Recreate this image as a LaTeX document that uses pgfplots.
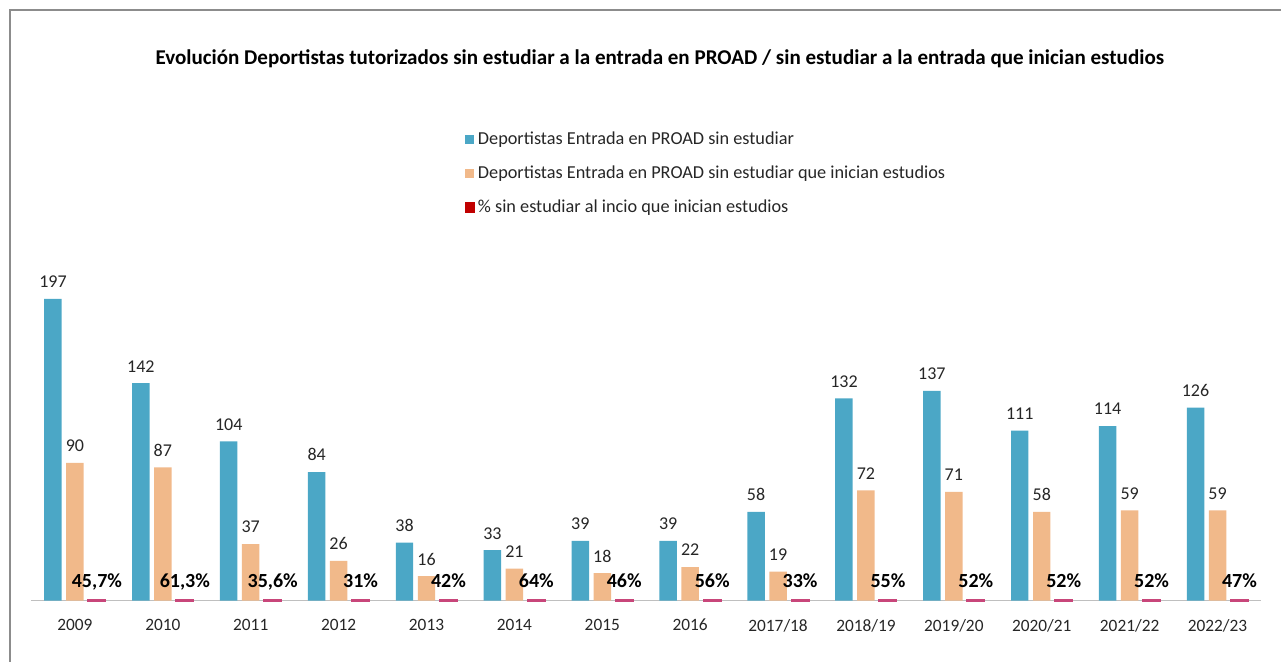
\documentclass[border=0pt]{standalone}
\usepackage{fontspec}
\setmainfont{Carlito}
\usepackage{pgfplots}
\pgfplotsset{compat=1.18}
\definecolor{BarBlue}{HTML}{4BA7C6}
\definecolor{BarOrange}{HTML}{F1B98A}
\definecolor{BarPink}{HTML}{C8467A}
\definecolor{PctRed}{HTML}{C00000}
\definecolor{AxisGray}{HTML}{BFBFBF}
\definecolor{FrameGray}{HTML}{8C8C8C}
\definecolor{LabelText}{HTML}{262626}

\begin{document}
\begin{tikzpicture}
\begin{axis}[
    ybar=3.4pt,
    bar width=13.1pt,
    scale only axis,
    width=923.25pt,
    height=247.2pt,
    xmin=-0.5, xmax=13.5,
    ymin=0, ymax=215,
    xtick={0,...,13},
    xticklabels={2009,2010,2011,2012,2013,2014,2015,2016,2017/18,2018/19,2019/20,2020/21,2021/22,2022/23},
    xtick style={draw=none},
    ytick=\empty,
    axis y line=none,
    axis x line*=bottom,
    x axis line style={draw=AxisGray, line width=0.8pt, -},
    xticklabel style={font=\fontsize{13}{15}\selectfont, text=LabelText, yshift=-6pt},
    /pgf/number format/assume math mode=true,
    clip=false,
    legend style={
        at={(0.349,1.440)}, anchor=north west,
        draw=none, fill=none,
        font=\fontsize{13.7}{16}\selectfont,
        text=LabelText,
        row sep=10.6pt,
        cells={anchor=west},
        legend cell align=left,
    },
    legend image code/.code={\fill[#1] (0pt,-3.375pt) rectangle (6.75pt,3.375pt);},
]
\addplot[fill=BarBlue, draw=none,
    nodes near coords,
    every node near coord/.append style={font=\fontsize{13.5}{16}\selectfont, text=LabelText, anchor=base, inner sep=0pt, yshift=8.3pt}]
    coordinates {
    (0,197) (1,142) (2,104) (3,84) (4,38) (5,33) (6,39) (7,39)
    (8,58) (9,132) (10,137) (11,111) (12,114) (13,126)
};
\addplot[fill=BarOrange, draw=none,
    nodes near coords,
    every node near coord/.append style={font=\fontsize{13.5}{16}\selectfont, text=LabelText, anchor=base, inner sep=0pt, yshift=8.3pt}]
    coordinates {
    (0,90) (1,87) (2,37) (3,26) (4,16) (5,21) (6,18) (7,22)
    (8,19) (9,72) (10,71) (11,58) (12,59) (13,59)
};
\addplot[fill=BarPink, draw=BarPink, line width=1.2pt,
    legend image code/.code={\fill[PctRed] (0pt,-3.375pt) rectangle (6.75pt,3.375pt);},
    point meta=explicit symbolic,
    nodes near coords,
    every node near coord/.append style={font=\bfseries\fontsize{15}{17}\selectfont, text=black, anchor=base, inner sep=0pt, yshift=9.5pt}]
    coordinates {
    (0,0.457) [45,7\%]
    (1,0.613) [61,3\%]
    (2,0.356) [35,6\%]
    (3,0.31) [31\%]
    (4,0.42) [42\%]
    (5,0.64) [64\%]
    (6,0.46) [46\%]
    (7,0.56) [56\%]
    (8,0.33) [33\%]
    (9,0.55) [55\%]
    (10,0.52) [52\%]
    (11,0.52) [52\%]
    (12,0.52) [52\%]
    (13,0.47) [47\%]
};
\legend{Deportistas Entrada en PROAD sin estudiar,
        Deportistas Entrada en PROAD sin estudiar que inician estudios,
        \% sin estudiar al incio que inician estudios}
\end{axis}
% outer chart frame (left and top edges visible in the reference)
\draw[FrameGray, line width=0.8pt] (-15.75pt,-45.75pt) -- (-15.75pt,443.25pt) -- (938.25pt,443.25pt);
\node[font=\bfseries\fontsize{15.8}{19}\selectfont] at (471.75pt,406.5pt)
    {Evolución Deportistas tutorizados sin estudiar a la entrada en PROAD / sin estudiar a la entrada que inician estudios};
\useasboundingbox (-23.25pt,-45.75pt) rectangle (938.25pt,450.75pt);
\end{tikzpicture}
\end{document}
